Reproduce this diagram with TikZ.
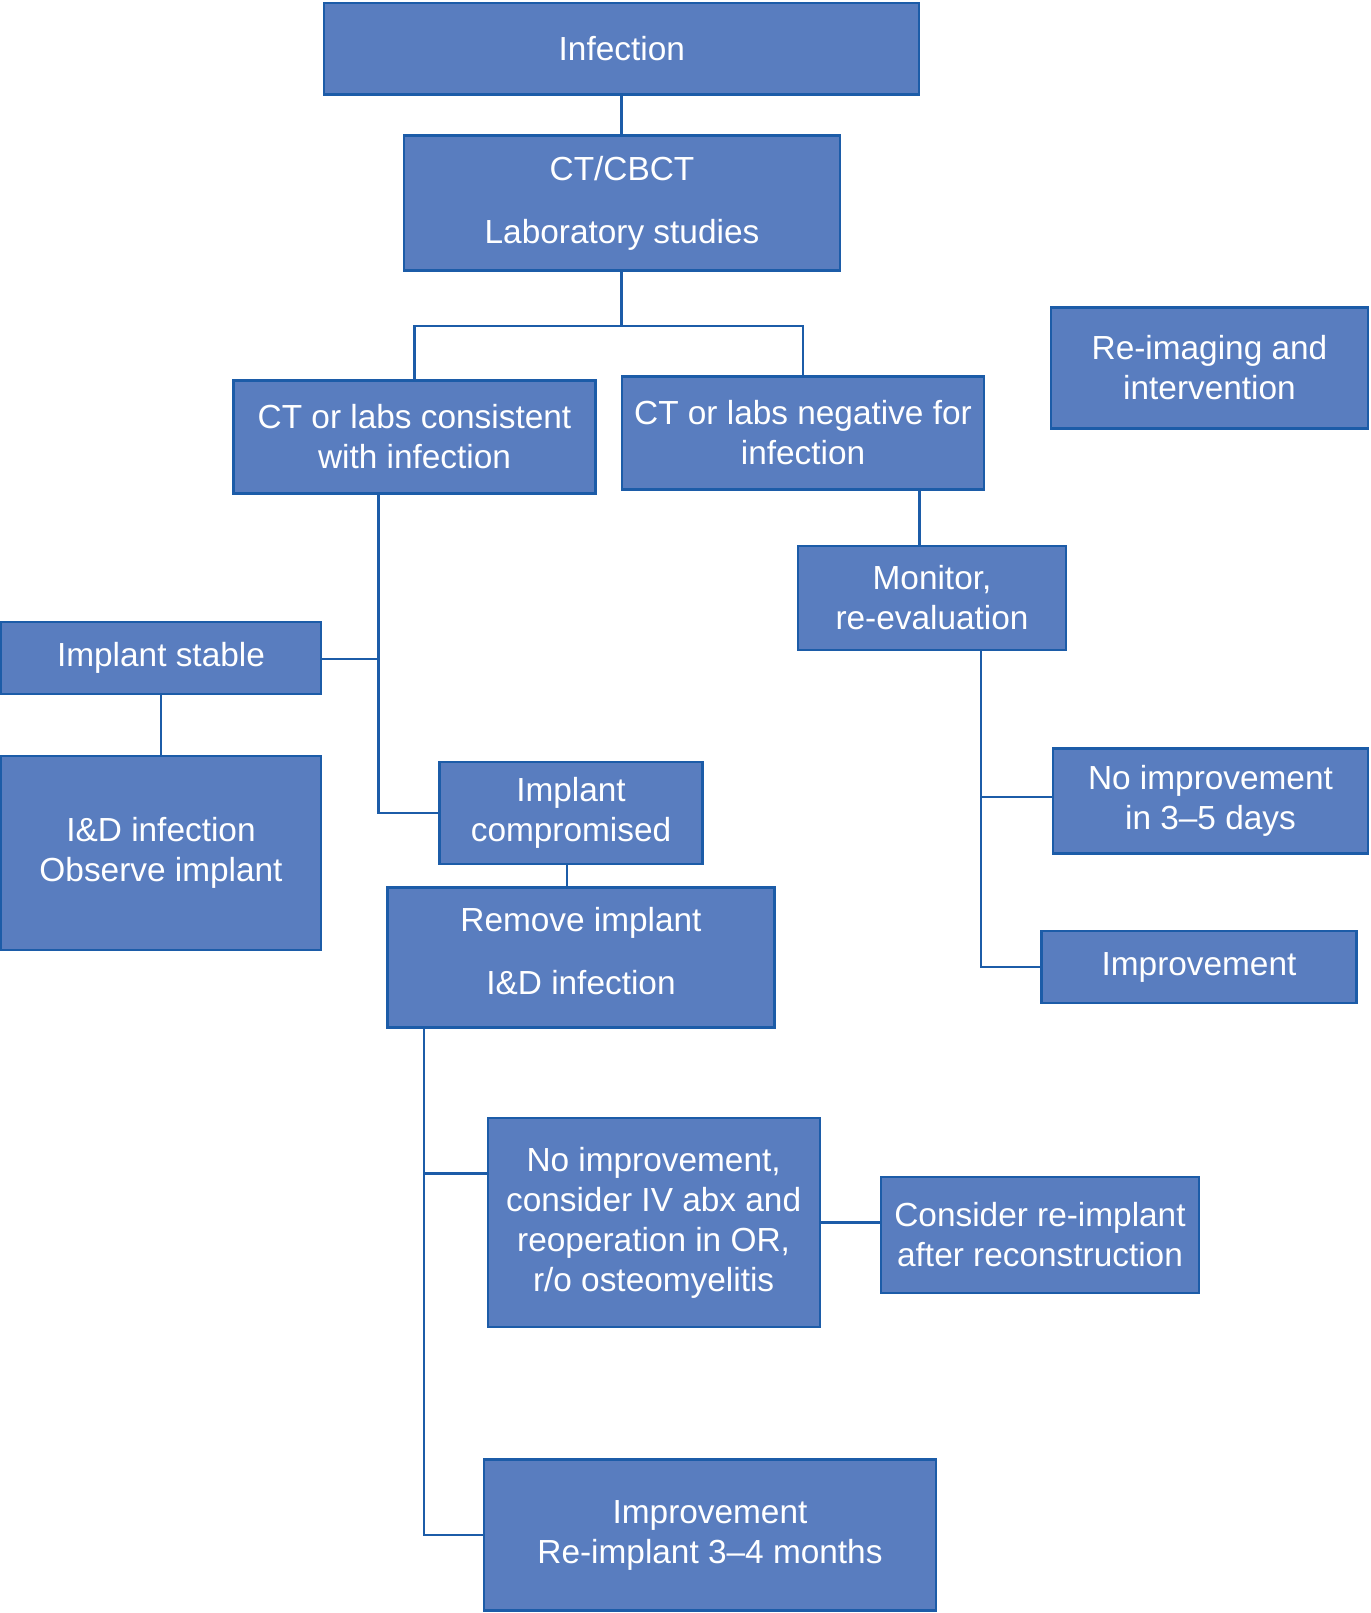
\documentclass[tikz,border=0pt]{standalone}
\usepackage{fontspec}
\setmainfont{Liberation Sans}
\usepackage{tikz}
\definecolor{boxfill}{RGB}{89,125,191}
\definecolor{boxline}{RGB}{28,92,168}
\begin{document}
\begin{tikzpicture}[x=0.02cm,y=-0.02cm,line width=1.2pt,
  blk/.style={draw=boxline,fill=boxfill,text=white,align=center,inner sep=0pt,
    font=\fontsize{19}{22.8}\selectfont}]
  \useasboundingbox (0,0) rectangle (1371,1613);
  \node[blk,minimum width=11.9cm,minimum height=1.83cm](infection) at (621.8,48.8) {Infection};
  \node[blk,minimum width=8.72cm,minimum height=2.7cm](ctcbct) at (622,203) {CT/CBCT\\[13pt]Laboratory studies};
  \node[blk,minimum width=6.34cm,minimum height=2.42cm](reimg) at (1209.5,368) {Re-imaging and\\intervention};
  \node[blk,minimum width=7.24cm,minimum height=2.26cm](ctpos) at (414.5,437) {CT or labs consistent\\with infection};
  \node[blk,minimum width=7.24cm,minimum height=2.26cm](ctneg) at (803,433) {CT or labs negative for\\infection};
  \node[blk,minimum width=5.36cm,minimum height=2.08cm](monitor) at (932,598) {Monitor,\\re-evaluation};
  \node[blk,minimum width=6.4cm,minimum height=1.44cm](stable) at (161,658) {Implant stable};
  \node[blk,minimum width=6.4cm,minimum height=3.88cm](observe) at (161,853) {I\&D infection\\Observe implant};
  \node[blk,minimum width=5.26cm,minimum height=2.04cm](compr) at (571,813) {Implant\\compromised};
  \node[blk,minimum width=7.74cm,minimum height=2.8cm,text depth=0.28cm](remove) at (581,957.5) {Remove implant\\[13pt]I\&D infection};
  \node[blk,minimum width=6.3cm,minimum height=2.1cm](noimpr) at (1210.5,801) {No improvement\\in 3--5 days};
  \node[blk,minimum width=6.3cm,minimum height=1.44cm](impr) at (1199,967) {Improvement};
  \node[blk,minimum width=6.64cm,minimum height=4.18cm](noimprOR) at (653.6,1222.5) {No improvement,\\consider IV abx and\\reoperation in OR,\\r/o osteomyelitis};
  \node[blk,minimum width=6.36cm,minimum height=2.32cm](reimpl) at (1040,1235) {Consider re-implant\\after reconstruction};
  \node[blk,minimum width=9.04cm,minimum height=3.02cm](improve) at (710,1535) {Improvement\\Re-implant 3--4 months};
  % junction points
  \coordinate (split) at (621.5,326);
  \coordinate (trunkL) at (378.5,813.5);
  \coordinate (stablejoin) at (378.5,659);
  \coordinate (trunkR) at (423.7,1535);
  \coordinate (orjoin) at (423.7,1173.5);
  \coordinate (negx) at (919.5,500);
  \coordinate (monL) at (981,966);
  \coordinate (noimprjoin) at (981,797);
  \begin{scope}[draw=boxline]
   \draw (infection.south -| split) -- (ctcbct.north -| split);
   \draw (ctcbct.south -| split) -- (split);
   \draw (split) -| (ctpos.north);
   \draw (split) -| (ctneg.north);
   \draw (ctpos.south -| trunkL) |- (compr.west);
   \draw (stable.east |- stablejoin) -- (stablejoin);
   \draw (stable.south) -- (observe.north);
   \draw (compr.south -| 566.7,0) -- (remove.north -| 566.7,0);
   \draw (remove.south -| trunkR) |- (improve.west);
   \draw (orjoin) -- (orjoin -| noimprOR.west);
   \draw (noimprOR.east) -- (noimprOR.east -| reimpl.west);
   \draw (ctneg.south -| negx) -- (monitor.north -| negx);
   \draw (monitor.south -| monL) |- (impr.west);
   \draw (noimprjoin) -- (noimprjoin -| noimpr.west);
  \end{scope}
\end{tikzpicture}
\end{document}
